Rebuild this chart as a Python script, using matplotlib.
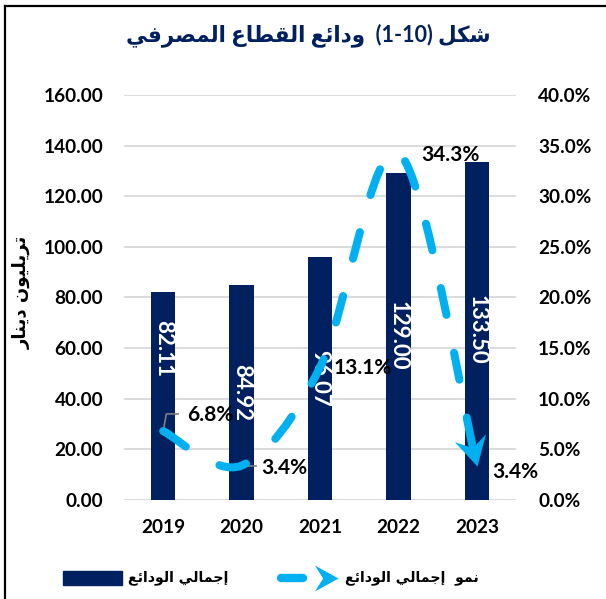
import matplotlib
matplotlib.use('Agg')
import matplotlib.pyplot as plt
from matplotlib.path import Path
from matplotlib.patches import PathPatch, Rectangle
from matplotlib.markers import MarkerStyle
from matplotlib.transforms import Affine2D
from matplotlib.lines import Line2D
import numpy as np

# data
years = ['2019', '2020', '2021', '2022', '2023']
deposits = [82.11, 84.92, 96.07, 129.00, 133.50]
growth = [6.8, 3.4, 13.1, 34.3, 3.4]
left_ticks = [0, 20, 40, 60, 80, 100, 120, 140, 160]
right_ticks = [0, 5, 10, 15, 20, 25, 30, 35, 40]

title_text = 'شكل (1-10)  ودائع القطاع المصرفي'
ylabel_text = 'تريليون دينار'
bar_legend = 'إجمالي الودائع'
line_legend = 'نمو  إجمالي الودائع'

# label placement (layout, not data)
bar_label_y = [60.0, 42.3, 48.2, 64.8, 67.2]
pct_label_xy = [(0.60, 8.4), (1.55, 3.2), (2.54, 13.0), (3.66, 34.1), (4.49, 2.8)]

NAVY = '#002060'
BLUE = '#00B0F0'
NUM_FONT = ['Lato', 'DejaVu Sans']
AR_FONT = ['DejaVu Sans']

# minimal arabic shaping: isolated, final, initial, medial
FORMS = {
    'ا': ('\uFE8D', '\uFE8E', None, None),
    'إ': ('\uFE87', '\uFE88', None, None),
    'د': ('\uFEA9', '\uFEAA', None, None),
    'ر': ('\uFEAD', '\uFEAE', None, None),
    'و': ('\uFEED', '\uFEEE', None, None),
    'ئ': ('\uFE89', '\uFE8A', '\uFE8B', '\uFE8C'),
    'ع': ('\uFEC9', '\uFECA', '\uFECB', '\uFECC'),
    'ق': ('\uFED5', '\uFED6', '\uFED7', '\uFED8'),
    'ط': ('\uFEC1', '\uFEC2', '\uFEC3', '\uFEC4'),
    'ل': ('\uFEDD', '\uFEDE', '\uFEDF', '\uFEE0'),
    'م': ('\uFEE1', '\uFEE2', '\uFEE3', '\uFEE4'),
    'ص': ('\uFEB9', '\uFEBA', '\uFEBB', '\uFEBC'),
    'ف': ('\uFED1', '\uFED2', '\uFED3', '\uFED4'),
    'ي': ('\uFEF1', '\uFEF2', '\uFEF3', '\uFEF4'),
    'ش': ('\uFEB5', '\uFEB6', '\uFEB7', '\uFEB8'),
    'ك': ('\uFED9', '\uFEDA', '\uFEDB', '\uFEDC'),
    'ج': ('\uFE9D', '\uFE9E', '\uFE9F', '\uFEA0'),
    'ت': ('\uFE95', '\uFE96', '\uFE97', '\uFE98'),
    'ن': ('\uFEE5', '\uFEE6', '\uFEE7', '\uFEE8'),
}


def shape_word(word):
    if not any(c in FORMS for c in word):
        return word
    out = []
    for i, ch in enumerate(word):
        if ch not in FORMS:
            out.append(ch)
            continue
        f = FORMS[ch]
        prev = word[i - 1] if i > 0 else None
        nxt = word[i + 1] if i + 1 < len(word) else None
        jp = prev in FORMS and FORMS[prev][2] is not None
        jn = f[2] is not None and nxt in FORMS
        if jp and jn:
            out.append(f[3])
        elif jp:
            out.append(f[1])
        elif jn:
            out.append(f[2])
        else:
            out.append(f[0])
    return ''.join(reversed(out))


def rtl(text):
    return ' '.join(shape_word(w) for w in reversed(text.split(' ')))


fig = plt.figure(figsize=(6.06, 5.99), dpi=100, facecolor='white')
ax = fig.add_axes([0.2046, 0.1653, 0.6469, 0.6761])
x = np.arange(len(years))

ax.bar(x, deposits, width=0.31, color=NAVY, zorder=2)
ax.set_xlim(-0.5, len(years) - 0.5)
ax.set_ylim(0, 160)
ax.set_yticks(left_ticks)
ax.set_yticklabels([f'{v:.2f}' for v in left_ticks], fontsize=13.7, fontweight='bold', family=NUM_FONT)
ax.set_xticks(x)
ax.set_xticklabels(years, fontsize=13.7, fontweight='bold', family=NUM_FONT)
ax.tick_params(axis='y', length=0, pad=15)
ax.tick_params(axis='x', length=0, pad=14)
ax.grid(axis='y', color='#D9D9D9', lw=1.3)
ax.set_axisbelow(True)
for s in ax.spines.values():
    s.set_visible(False)

for i, v in enumerate(deposits):
    ax.text(i, bar_label_y[i], f'{v:.2f}', rotation=-90, color='white', ha='center', va='center',
            fontsize=16, fontweight='bold', family=NUM_FONT, zorder=3)

ax2 = ax.twinx()
ax2.set_ylim(0, 40)
ax2.set_yticks(right_ticks)
ax2.set_yticklabels([f'{v:.1f}%' for v in right_ticks], fontsize=13.7, fontweight='bold', family=NUM_FONT)
ax2.tick_params(axis='y', length=0, pad=16)
for s in ax2.spines.values():
    s.set_visible(False)

# smoothed growth line (cubic bezier through the points)
pts = np.column_stack([x, growth]).astype(float)
n = len(pts)
verts = [tuple(pts[0])]
codes = [Path.MOVETO]
for i in range(n - 1):
    p_prev = pts[i - 1] if i > 0 else pts[i]
    p_next2 = pts[i + 2] if i + 2 < n else pts[i + 1]
    c1 = pts[i] + (pts[i + 1] - p_prev) / 6
    c2 = pts[i + 1] - (p_next2 - pts[i]) / 6
    verts += [tuple(c1), tuple(c2), tuple(pts[i + 1])]
    codes += [Path.CURVE4] * 3
curve = PathPatch(Path(verts, codes), fill=False, edgecolor=BLUE, lw=5.8,
                  linestyle=(0, (3.4, 4.8)), capstyle='round', zorder=3)
ax2.add_patch(curve)

# arrow head at the end of the line
head = Path([(0, 0), (-1, 0.55), (-0.65, 0), (-1, -0.55), (0, 0)],
            [Path.MOVETO, Path.LINETO, Path.LINETO, Path.LINETO, Path.CLOSEPOLY])
d0 = ax2.transData.transform(verts[-2])
d1 = ax2.transData.transform(verts[-1])
ang = np.degrees(np.arctan2(d1[1] - d0[1], d1[0] - d0[0]))
ax2.plot([x[-1]], [growth[-1]], marker=MarkerStyle(head, transform=Affine2D().rotate_deg(ang)),
         ms=42, color=BLUE, mec=BLUE, mew=0, zorder=4, ls='none')

for i, v in enumerate(growth):
    ax2.text(pct_label_xy[i][0], pct_label_xy[i][1], f'{v:.1f}%', ha='center', va='center',
             fontsize=15, fontweight='bold', family=NUM_FONT, color='black', zorder=5)

# leader lines
ax2.plot([x[0], x[0] + 0.04, x[0] + 0.19], [growth[0], 8.5, 8.5], color='#7F7F7F', lw=1.2, zorder=2.5)
ax2.plot([x[1], x[1] + 0.18], [growth[1], growth[1]], color='#7F7F7F', lw=1.2, zorder=2.5)

# title and axis label
fig.text(308 / 606, 1 - 35 / 599, rtl(title_text), ha='center', va='center', fontsize=15.5,
         fontweight='bold', color=NAVY, family=NUM_FONT)
fig.text(22 / 606, 1 - 292 / 599, rtl(ylabel_text), rotation=90, ha='center', va='center',
         fontsize=13, fontweight='bold', family=AR_FONT)

# legend
ly = 1 - 578 / 599
fig.add_artist(Rectangle((63 / 606, 1 - 585 / 599), 59 / 606, 14 / 599, transform=fig.transFigure,
                         color=NAVY))
fig.text(178 / 606, ly, rtl(bar_legend), ha='center', va='center', fontsize=10.2,
         fontweight='bold', family=AR_FONT)
fig.add_artist(Line2D([281 / 606, 303 / 606], [ly, ly], transform=fig.transFigure, color=BLUE,
                      lw=6, solid_capstyle='round'))
fig.add_artist(Line2D([338 / 606], [ly], transform=fig.transFigure, marker=MarkerStyle(head),
                      ms=34, color=BLUE, mew=0, ls='none'))
fig.text(412 / 606, ly, rtl(line_legend), ha='center', va='center', fontsize=10.2,
         fontweight='bold', family=AR_FONT)

# frame lines at left and top
fig.add_artist(Line2D([5 / 606, 5 / 606], [0, 1 - 6 / 599], transform=fig.transFigure, color='black', lw=1.6))
fig.add_artist(Line2D([5 / 606, 1], [1 - 6 / 599, 1 - 6 / 599], transform=fig.transFigure, color='black', lw=1.6))

plt.savefig('out.png', dpi=100)
